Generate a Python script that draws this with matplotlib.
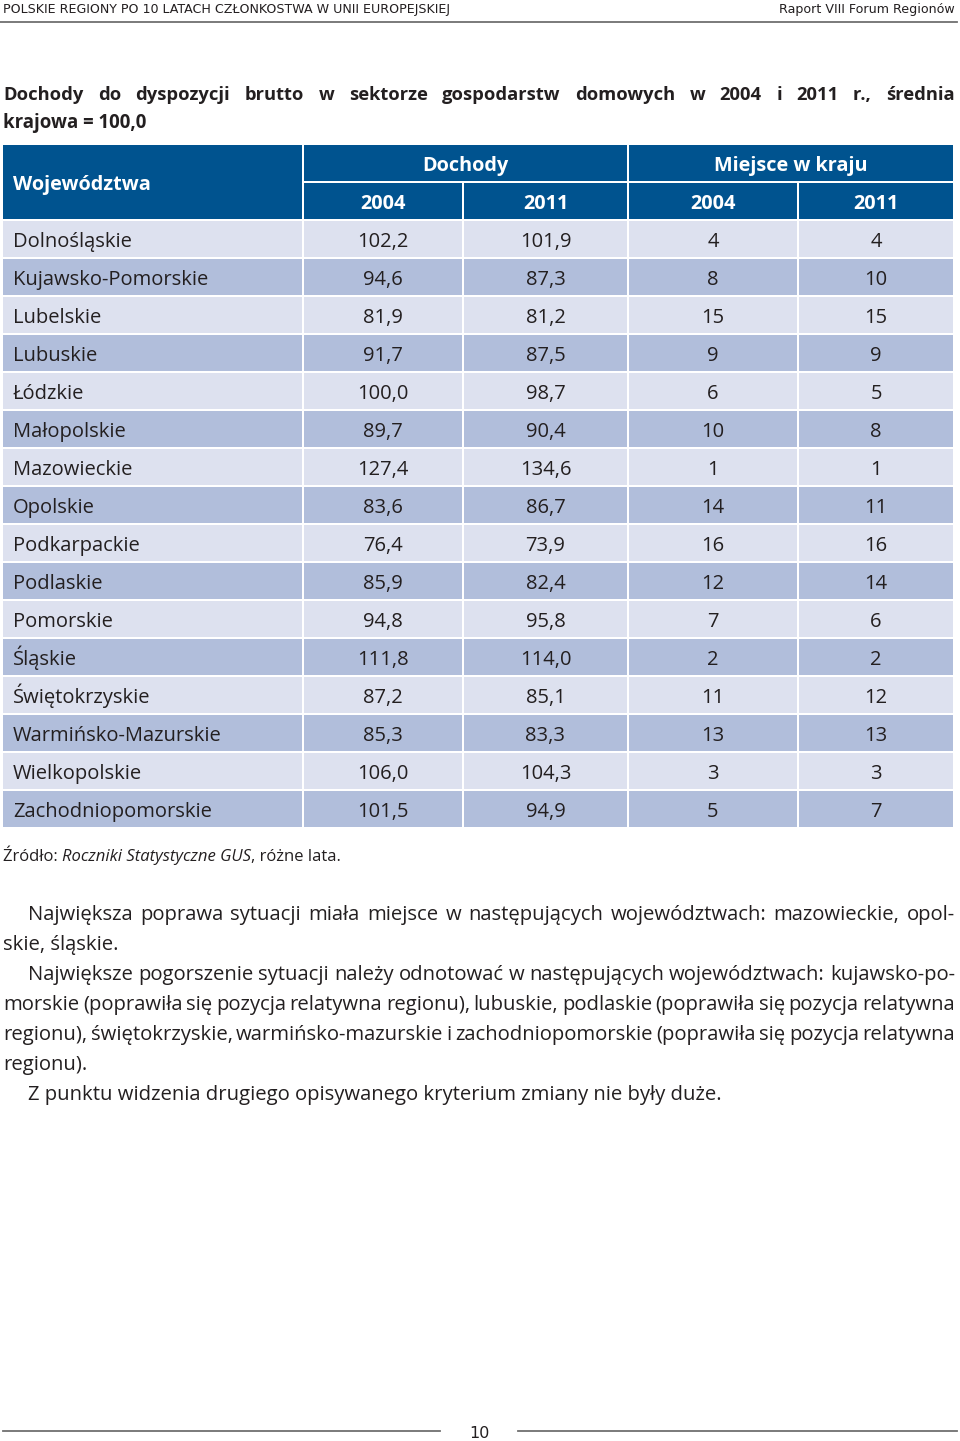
import matplotlib.pyplot as plt
from matplotlib.patches import Rectangle

regions = ['Dolnośląskie', 'Kujawsko-Pomorskie', 'Lubelskie', 'Lubuskie', 'Łódzkie',
           'Małopolskie', 'Mazowieckie', 'Opolskie', 'Podkarpackie', 'Podlaskie',
           'Pomorskie', 'Śląskie', 'Świętokrzyskie', 'Warmińsko-Mazurskie',
           'Wielkopolskie', 'Zachodniopomorskie']
dochody_2004 = [102.2, 94.6, 81.9, 91.7, 100.0, 89.7, 127.4, 83.6, 76.4, 85.9, 94.8, 111.8, 87.2, 85.3, 106.0, 101.5]
dochody_2011 = [101.9, 87.3, 81.2, 87.5, 98.7, 90.4, 134.6, 86.7, 73.9, 82.4, 95.8, 114.0, 85.1, 83.3, 104.3, 94.9]
miejsce_2004 = [4, 8, 15, 9, 6, 10, 1, 14, 16, 12, 7, 2, 11, 13, 3, 5]
miejsce_2011 = [4, 10, 15, 9, 5, 8, 1, 11, 16, 14, 6, 2, 12, 13, 3, 7]
years = ['2004', '2011', '2004', '2011']

title = 'Dochody do dyspozycji brutto w sektorze gospodarstw domowych w 2004 i 2011 r., średnia'
title2 = 'krajowa = 100,0'
paragraph = [
    ('Największa poprawa sytuacji miała miejsce w następujących województwach: mazowieckie, opol-', True, True),
    ('skie, śląskie.', False, False),
    ('Największe pogorszenie sytuacji należy odnotować w następujących województwach: kujawsko-po-', True, True),
    ('morskie (poprawiła się pozycja relatywna regionu), lubuskie, podlaskie (poprawiła się pozycja relatywna', False, True),
    ('regionu), świętokrzyskie, warmińsko-mazurskie i zachodniopomorskie (poprawiła się pozycja relatywna', False, True),
    ('regionu).', False, False),
    ('Z punktu widzenia drugiego opisywanego kryterium zmiany nie były duże.', True, False),
]

BLUE = '#00538f'
LIGHT = '#dde1ef'
DARK = '#b1bedb'
TXT = '#231f20'
FONT = 'Open Sans'

fig = plt.figure(figsize=(9.6, 14.41), dpi=100)
ax = fig.add_axes([0, 0, 1, 1])
ax.set_xlim(0, 960)
ax.set_ylim(1441, 0)
ax.axis('off')
renderer = fig.canvas.get_renderer()


def fmt(v):
    return f'{v:.1f}'.replace('.', ',')


def base(y, size):
    # baseline for text whose capitals should be centred on y
    return y + 0.5 * size


def justify(text, x0, x1, y, **kw):
    words = text.split(' ')
    arts = [ax.text(0, y, w, va='baseline', ha='left', **kw) for w in words]
    widths = [a.get_window_extent(renderer).width for a in arts]
    gap = (x1 - x0 - sum(widths)) / (len(words) - 1)
    x = x0
    for a, w in zip(arts, widths):
        a.set_x(x)
        x += w + gap


# page header
ax.text(3, 9, 'POLSKIE REGIONY PO 10 LATACH CZŁONKOSTWA W UNII EUROPEJSKIEJ', fontsize=9.1,
        family='Liberation Sans Narrow', color=TXT, va='center', ha='left')
ax.text(955, 9, 'Raport VIII Forum Regionów', fontsize=9.1, family='Liberation Sans Narrow',
        color=TXT, va='center', ha='right')
ax.plot([0, 957], [22, 22], color='#707070', lw=1.3)

# title
justify(title, 3, 955, base(93, 13.2), fontsize=13.2, fontweight='bold', family=FONT, color=TXT)
ax.text(3, base(121, 13.4), title2, fontsize=13.4, fontweight='bold', family=FONT, color=TXT, va='baseline')

# table
cols = [(3, 302), (304, 462), (464, 627), (629, 797), (799, 953)]
ax.add_patch(Rectangle((3, 145), 299, 74, color=BLUE, lw=0))
ax.add_patch(Rectangle((304, 145), 323, 36, color=BLUE, lw=0))
ax.add_patch(Rectangle((629, 145), 324, 36, color=BLUE, lw=0))
hdr = dict(fontsize=14.3, fontweight='bold', family=FONT, color='white', va='baseline')
for (c0, c1), yr in zip(cols[1:], years):
    ax.add_patch(Rectangle((c0, 183), c1 - c0, 36, color=BLUE, lw=0))
    ax.text((c0 + c1) / 2, base(202, 14.3), yr, ha='center', **hdr)
ax.text(13, base(183, 14.3), 'Województwa', ha='left', **hdr)
ax.text(465.5, base(164, 14.3), 'Dochody', ha='center', **hdr)
ax.text(791, base(164, 14.3), 'Miejsce w kraju', ha='center', **hdr)

cell = dict(fontsize=14.5, family=FONT, color=TXT, va='baseline')
for i, reg in enumerate(regions):
    top = 221 + 38 * i
    yc = base(top + 19, 14.5)
    fill = LIGHT if i % 2 == 0 else DARK
    vals = [fmt(dochody_2004[i]), fmt(dochody_2011[i]), str(miejsce_2004[i]), str(miejsce_2011[i])]
    for j, (c0, c1) in enumerate(cols):
        ax.add_patch(Rectangle((c0, top), c1 - c0, 36, color=fill, lw=0))
        if j == 0:
            ax.text(13, yc, reg, ha='left', **cell)
        else:
            ax.text((c0 + c1) / 2, yc, vals[j - 1], ha='center', **cell)

# source
x = 3
for part, style in [('Źródło: ', 'normal'), ('Roczniki Statystyczne GUS', 'italic'), (', różne lata.', 'normal')]:
    t = ax.text(x, base(855, 12), part, fontsize=12, family=FONT, style=style, color=TXT,
                va='baseline', ha='left')
    x += t.get_window_extent(renderer).width

# body text
for k, (line, indent, just) in enumerate(paragraph):
    y = base(913 + 30 * k, 14.6)
    x0 = 28 if indent else 3
    kw = dict(fontsize=14.6, family=FONT, color=TXT)
    if just:
        justify(line, x0, 955, y, **kw)
    else:
        ax.text(x0, y, line, va='baseline', ha='left', **kw)

# footer
ax.plot([3, 440], [1431, 1431], color='#707070', lw=1.3)
ax.plot([518, 957], [1431, 1431], color='#707070', lw=1.3)
ax.text(479, 1433, '10', fontsize=11.5, family='Liberation Sans Narrow', color=TXT, ha='center', va='center')

fig.savefig('out.png', dpi=100)
